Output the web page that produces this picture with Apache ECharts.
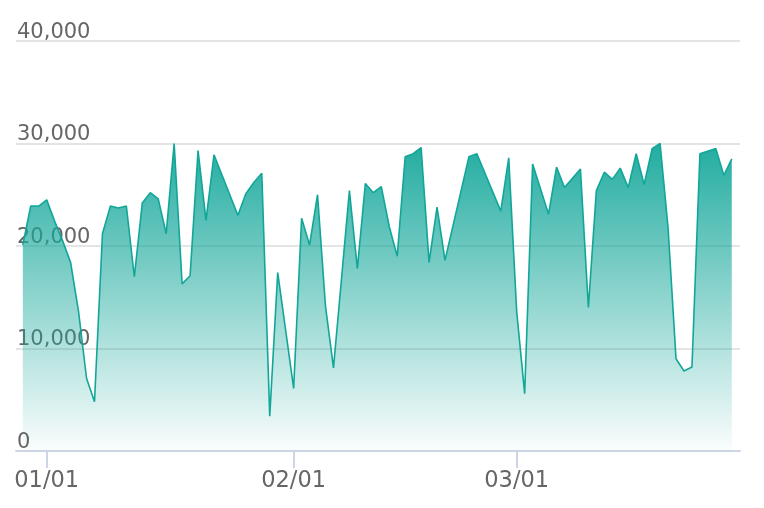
<!DOCTYPE html>
<html>
<head>
<meta charset="utf-8">
<script src="https://cdn.jsdelivr.net/npm/echarts@6/dist/echarts.min.js"></script>
<style>
html,body{margin:0;padding:0;background:#fff;}
#main{width:764px;height:508px;}
</style>
</head>
<body>
<div id="main"></div>
<script>
var dates = ['2018-12-29','2018-12-30','2018-12-31','2019-01-01','2019-01-02','2019-01-03','2019-01-04','2019-01-05','2019-01-06','2019-01-07',
'2019-01-08','2019-01-09','2019-01-10','2019-01-11','2019-01-12','2019-01-13','2019-01-14','2019-01-15','2019-01-16','2019-01-17',
'2019-01-18','2019-01-19','2019-01-20','2019-01-21','2019-01-22','2019-01-25','2019-01-26','2019-01-27','2019-01-28','2019-01-29',
'2019-01-30','2019-02-01','2019-02-02','2019-02-03','2019-02-04','2019-02-05','2019-02-06','2019-02-08','2019-02-09','2019-02-10',
'2019-02-11','2019-02-12','2019-02-13','2019-02-14','2019-02-15','2019-02-16','2019-02-17','2019-02-18','2019-02-19','2019-02-20',
'2019-02-23','2019-02-24','2019-02-27','2019-02-28','2019-03-01','2019-03-02','2019-03-03','2019-03-05','2019-03-06','2019-03-07',
'2019-03-09','2019-03-10','2019-03-11','2019-03-12','2019-03-13','2019-03-14','2019-03-15','2019-03-16','2019-03-17','2019-03-18',
'2019-03-19','2019-03-20','2019-03-21','2019-03-22','2019-03-23','2019-03-24','2019-03-26','2019-03-27','2019-03-28'];
var values = [20100,23900,23900,24500,22400,20500,18400,13600,7100,4800,
21200,23900,23700,23900,17000,24200,25200,24600,21200,30000,
16300,17100,29300,22500,28900,23000,25100,26200,27100,3400,
17400,6100,22700,20100,25000,14100,8100,25400,17800,26100,
25200,25800,21900,19000,28700,29000,29600,18400,23800,18600,
28700,29000,23400,28600,13600,5600,28000,23100,27700,25700,
27500,14000,25400,27200,26500,27600,25700,29000,26000,29500,
30000,21800,9000,7800,8200,29000,29500,26900,28500];
var xMin = '2018-12-28 03:30';
var xMax = '2019-03-29 00:45';
var yTicks = [0, 10000, 20000, 30000, 40000];

var seriesData = dates.map(function(d, i){ return [d, values[i]]; });
var chart = echarts.init(document.getElementById('main'));
chart.setOption({
  animation: false,
  backgroundColor: '#fff',
  textStyle: { fontFamily: 'DejaVu Sans' },
  grid: { left: 16, right: 24, top: 41, bottom: 57 },
  xAxis: {
    type: 'time',
    min: xMin,
    max: xMax,
    splitNumber: 3,
    axisLine: { lineStyle: { color: '#ccd4e6', width: 2 } },
    axisTick: { show: true, length: 17, lineStyle: { color: '#ccd4e6', width: 2 } },
    splitLine: { show: false },
    axisLabel: {
      formatter: '{MM}/{dd}',
      color: '#666',
      fontSize: 22.5,
      margin: 19,
      fontFamily: 'DejaVu Sans'
    }
  },
  yAxis: {
    type: 'value',
    min: yTicks[0],
    max: yTicks[yTicks.length - 1],
    interval: 10000,
    axisLine: { show: false },
    axisTick: { show: false },
    splitLine: { lineStyle: { color: '#e4e4e4', width: 2 } },
    axisLabel: {
      inside: true,
      verticalAlign: 'bottom',
      padding: [0, 0, -2, 0],
      margin: 1,
      color: '#666',
      fontSize: 21,
      fontFamily: 'DejaVu Sans',
      formatter: function(v){ return v.toLocaleString('en-US'); }
    }
  },
  series: [{
    type: 'line',
    data: seriesData,
    showSymbol: false,
    symbol: 'none',
    lineStyle: { color: '#12a699', width: 1.6 },
    itemStyle: { color: '#12a699' },
    areaStyle: {
      opacity: 1,
      color: new echarts.graphic.LinearGradient(0, 0, 0, 1, [
        { offset: 0, color: 'rgba(22,168,155,0.95)' },
        { offset: 1, color: 'rgba(22,168,155,0.02)' }
      ])
    }
  }]
});
</script>
</body>
</html>
